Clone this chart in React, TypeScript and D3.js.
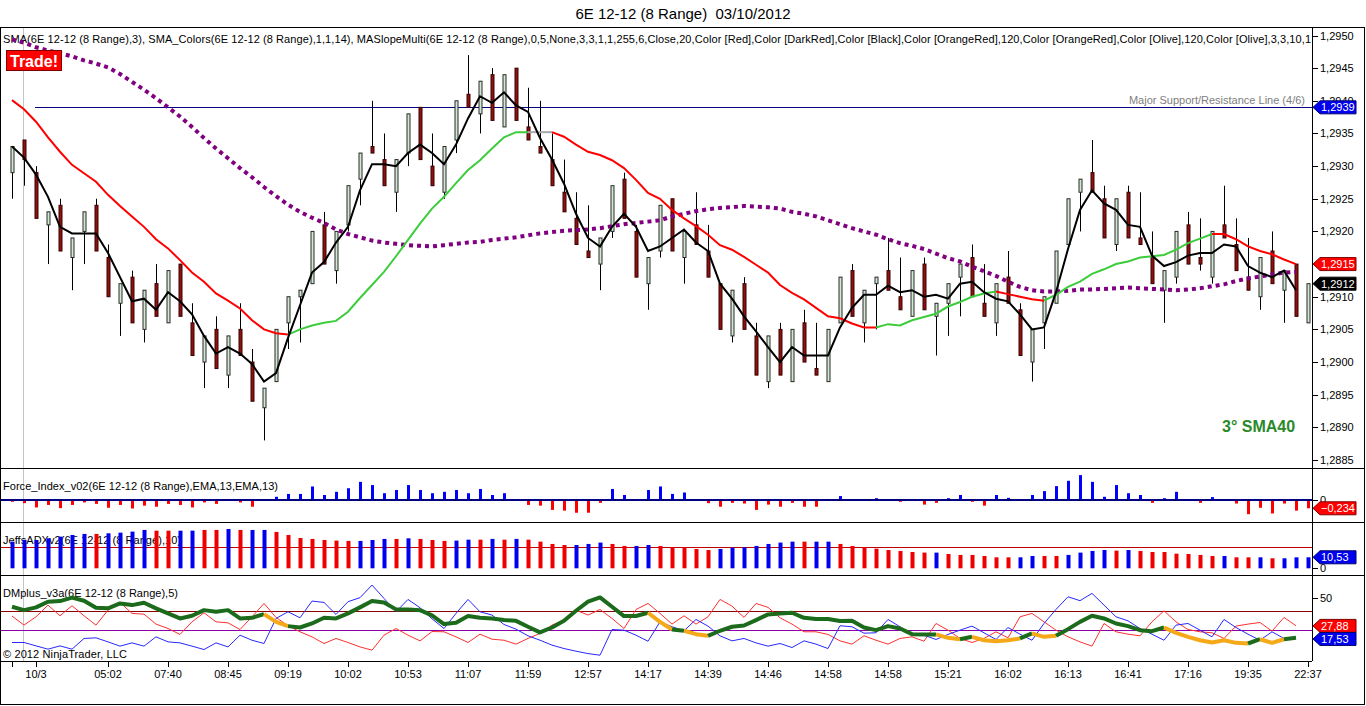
import { useEffect, useRef } from "react";
import * as d3 from "d3";

// ---- price bars (8 range) ----
const openPx = [
  1.2929, 1.2934, 1.2929, 1.2921, 1.2924, 1.2916, 1.292, 1.2924, 1.2916, 1.2909,
  1.2913, 1.2905, 1.2912, 1.2906, 1.2915, 1.2906, 1.29, 1.2905, 1.2898, 1.2905,
  1.29, 1.2893, 1.2897, 1.2906, 1.291, 1.2912, 1.2921, 1.2914, 1.2921, 1.2928,
  1.2933, 1.2931, 1.2926, 1.2932, 1.2939, 1.293, 1.2926, 1.2934, 1.2941, 1.2938,
  1.2944, 1.2936, 1.2945, 1.2936, 1.2933, 1.2931, 1.2926, 1.2922, 1.2917, 1.2915,
  1.292, 1.2928, 1.292, 1.2912, 1.2917, 1.2925, 1.2916, 1.2921, 1.2917, 1.2912,
  1.2904, 1.2912, 1.2904, 1.2897, 1.2905, 1.2897, 1.2906, 1.2899, 1.2897, 1.2906,
  1.2914, 1.2906, 1.2912, 1.2914, 1.291, 1.2907, 1.2915, 1.2907, 1.2909, 1.2913,
  1.2916, 1.2909, 1.2906, 1.2913, 1.2908, 1.29, 1.2906, 1.2909, 1.2918, 1.2926,
  1.2929, 1.2925, 1.2918, 1.2926, 1.2919, 1.2916, 1.2911, 1.2913, 1.2921, 1.2916,
  1.2913, 1.2921, 1.2918, 1.2913, 1.291, 1.2917, 1.2911, 1.2915, 1.2906,
];
const highPx = [
  1.2933, 1.2934, 1.293, 1.2923, 1.2925, 1.2919, 1.2923, 1.2925, 1.2918, 1.2912,
  1.2914, 1.2911, 1.2915, 1.2914, 1.2915, 1.2909, 1.2904, 1.2907, 1.2904, 1.2909,
  1.2902, 1.2896, 1.2905, 1.291, 1.2911, 1.292, 1.2923, 1.292, 1.2927, 1.2932,
  1.294, 1.2935, 1.2931, 1.2938, 1.2939, 1.2935, 1.2933, 1.294, 1.2947, 1.2943,
  1.2945, 1.2944, 1.2945, 1.2942, 1.294, 1.2935, 1.2931, 1.2926, 1.2924, 1.2919,
  1.2927, 1.2929, 1.2921, 1.2916, 1.2924, 1.2925, 1.292, 1.2926, 1.2921, 1.2912,
  1.2911, 1.2913, 1.2906, 1.2904, 1.2906, 1.2905, 1.2908, 1.2906, 1.2905, 1.2913,
  1.2915, 1.2911, 1.2913, 1.2919, 1.2916, 1.2914, 1.2916, 1.2909, 1.2912, 1.2915,
  1.2918, 1.2915, 1.2912, 1.2917, 1.2909, 1.2905, 1.291, 1.2917, 1.2925, 1.2928,
  1.2934, 1.2927, 1.2925, 1.2927, 1.2926, 1.292, 1.2914, 1.292, 1.2923, 1.2922,
  1.292, 1.2927, 1.2922, 1.2919, 1.2916, 1.292, 1.2914, 1.2915, 1.2912,
];
const lowPx = [
  1.2925, 1.2927, 1.2922, 1.2915, 1.2917, 1.2911, 1.2915, 1.2917, 1.291, 1.2904,
  1.2906, 1.2903, 1.2907, 1.2906, 1.2907, 1.2901, 1.2896, 1.2899, 1.2896, 1.2901,
  1.2894, 1.2888, 1.2897, 1.2902, 1.2903, 1.2912, 1.2915, 1.2912, 1.292, 1.2924,
  1.2932, 1.2927, 1.2923, 1.293, 1.2931, 1.2927, 1.2925, 1.2932, 1.2939, 1.2935,
  1.2937, 1.2936, 1.2937, 1.2934, 1.2932, 1.2927, 1.2923, 1.2918, 1.2916, 1.2911,
  1.2919, 1.2922, 1.2913, 1.2908, 1.2916, 1.2917, 1.2912, 1.2918, 1.2913, 1.2905,
  1.2903, 1.2905, 1.2898, 1.2896, 1.2898, 1.2897, 1.29, 1.2898, 1.2897, 1.2906,
  1.2907, 1.2903, 1.2905, 1.2911, 1.2908, 1.2907, 1.2908, 1.2901, 1.2904, 1.2907,
  1.291, 1.2907, 1.2904, 1.2909, 1.2901, 1.2897, 1.2902, 1.2909, 1.2918, 1.292,
  1.2926, 1.2919, 1.2917, 1.2919, 1.2918, 1.2912, 1.2906, 1.2912, 1.2915, 1.2914,
  1.2912, 1.2919, 1.2914, 1.2911, 1.2908, 1.2912, 1.2906, 1.2907, 1.2906,
];
const closePx = [
  1.2933, 1.2931, 1.2922, 1.2923, 1.2917, 1.2919, 1.2923, 1.2917, 1.291, 1.2912,
  1.2906, 1.2911, 1.2907, 1.2914, 1.2907, 1.2901, 1.2904, 1.2899, 1.2904, 1.2901,
  1.2894, 1.2896, 1.2905, 1.291, 1.2911, 1.292, 1.2915, 1.292, 1.2927, 1.2932,
  1.2932, 1.2927, 1.2931, 1.2938, 1.2931, 1.2927, 1.2933, 1.294, 1.2939, 1.2943,
  1.2937, 1.2944, 1.2937, 1.2934, 1.2932, 1.2927, 1.2923, 1.2918, 1.2916, 1.2919,
  1.2927, 1.2922, 1.2913, 1.2916, 1.2924, 1.2917, 1.292, 1.2918, 1.2913, 1.2905,
  1.2911, 1.2905, 1.2898, 1.2904, 1.2898, 1.2905, 1.29, 1.2898, 1.2905, 1.2913,
  1.2907, 1.2911, 1.2913, 1.2911, 1.2908, 1.2914, 1.2908, 1.2909, 1.2912, 1.2915,
  1.291, 1.2907, 1.2912, 1.2909, 1.2901, 1.2905, 1.291, 1.2917, 1.2925, 1.2928,
  1.2926, 1.2919, 1.2925, 1.2919, 1.2918, 1.2912, 1.2914, 1.292, 1.2915, 1.2915,
  1.292, 1.2919, 1.2914, 1.2911, 1.2916, 1.2912, 1.2914, 1.2907, 1.2912,
];

// ---- overlays (one value per finished bar) ----
const sma3 = [
  1.2933, 1.29313, 1.29287, 1.29253, 1.29207, 1.29197, 1.29197, 1.29197, 1.29167, 1.2913,
  1.29093, 1.29097, 1.2908, 1.29107, 1.29093, 1.29073, 1.2904, 1.29013, 1.29023, 1.29013,
  1.28997, 1.2897, 1.28983, 1.29037, 1.29087, 1.29137, 1.29153, 1.29183, 1.29207, 1.29263,
  1.29303, 1.29303, 1.293, 1.2932, 1.29333, 1.2932, 1.29303, 1.29333, 1.29373, 1.29407,
  1.29397, 1.29413, 1.29393, 1.29383, 1.29343, 1.2931, 1.29273, 1.29227, 1.2919, 1.29177,
  1.29207, 1.29227, 1.29207, 1.2917, 1.29177, 1.2919, 1.29203, 1.29183, 1.2917, 1.2912,
  1.29097, 1.2907, 1.29047, 1.29023, 1.29, 1.29023, 1.2901, 1.2901, 1.2901, 1.29053,
  1.29083, 1.29103, 1.29103, 1.29117, 1.29107, 1.2911, 1.291, 1.29103, 1.29097, 1.2912,
  1.29123, 1.29107, 1.29097, 1.29093, 1.29073, 1.2905, 1.29053, 1.29107, 1.29173, 1.29233,
  1.29263, 1.29243, 1.29233, 1.2921, 1.29207, 1.29163, 1.29147, 1.29153, 1.29163, 1.29167,
  1.29167, 1.2918, 1.29177, 1.29147, 1.29137, 1.2913, 1.2914, 1.2911,
];
const smaColors = [
  1.29401, 1.29387, 1.29368, 1.29344, 1.29322, 1.29302, 1.29289, 1.29276, 1.29256, 1.29239,
  1.29223, 1.29207, 1.29188, 1.29174, 1.29156, 1.29137, 1.29123, 1.29105, 1.29094, 1.29082,
  1.29064, 1.2905, 1.29044, 1.29042, 1.2905, 1.29056, 1.2906, 1.29063, 1.29077, 1.29098,
  1.29118, 1.29138, 1.29162, 1.29187, 1.29212, 1.29235, 1.29253, 1.29274, 1.29294, 1.29309,
  1.29327, 1.29344, 1.29352, 1.29352, 1.29352, 1.29352, 1.29345, 1.29333, 1.29322, 1.29317,
  1.29309, 1.29297, 1.29279, 1.29259, 1.2925, 1.29233, 1.2922, 1.29208, 1.29195, 1.29179,
  1.29172, 1.29161, 1.29149, 1.29137, 1.29118, 1.29106, 1.29096, 1.29083, 1.2907, 1.29067,
  1.29059, 1.29053, 1.29053, 1.29058, 1.29056, 1.29064, 1.29069, 1.29074, 1.29085, 1.29092,
  1.291, 1.29105, 1.29108, 1.29104, 1.291, 1.29096, 1.29094, 1.29103, 1.29115, 1.29123,
  1.29135, 1.29142, 1.2915, 1.29154, 1.2916, 1.29162, 1.29164, 1.29172, 1.29182, 1.29189,
  1.29196, 1.29196, 1.29188, 1.29177, 1.2917, 1.29165, 1.29157, 1.2915,
];
// slope state of SMA_Colors, as runs of segments [fromBar, toBar, state]
const smaRuns: [number, number, string][] = [
  [1, 23, "down"], [24, 43, "up"], [44, 45, "flat"], [46, 72, "down"],
  [73, 82, "up"], [83, 86, "down"], [87, 100, "up"], [101, 107, "down"],
];
const maSlope = [
  1.29494, 1.29489, 1.29482, 1.29477, 1.29473, 1.29468, 1.29462, 1.29457, 1.29451, 1.29441,
  1.29429, 1.29417, 1.29404, 1.2939, 1.29376, 1.2936, 1.29343, 1.29327, 1.29312, 1.29297,
  1.29283, 1.29268, 1.29254, 1.29241, 1.2923, 1.29221, 1.29213, 1.29203, 1.29196, 1.29191,
  1.29186, 1.29183, 1.29181, 1.29179, 1.29178, 1.29177, 1.29179, 1.29181, 1.29183, 1.29184,
  1.29187, 1.29189, 1.29191, 1.29194, 1.29197, 1.29199, 1.29201, 1.29202, 1.29203, 1.29205,
  1.29208, 1.29211, 1.29213, 1.29215, 1.29217, 1.29223, 1.29227, 1.29231, 1.29234, 1.29236,
  1.29237, 1.29239, 1.29238, 1.29237, 1.29235, 1.2923, 1.29227, 1.29223, 1.29217, 1.29211,
  1.29205, 1.292, 1.29195, 1.29188, 1.29182, 1.29178, 1.29173, 1.29166, 1.29159, 1.29154,
  1.29146, 1.29139, 1.29132, 1.29123, 1.29115, 1.2911, 1.29108, 1.29108, 1.29109, 1.29111,
  1.29111, 1.29112, 1.29113, 1.29114, 1.29113, 1.29112, 1.29111, 1.2911, 1.29111, 1.29113,
  1.29116, 1.29119, 1.29124, 1.29128, 1.29131, 1.29134, 1.29137, 1.29138,
];
const supportLevel = 1.2939;

// ---- Force_Index_v02 ----
const forceIdx = [
  -0.05, -0.09, -0.21, -0.14, -0.23, -0.14, -0.07, -0.11, -0.22, -0.14,
  -0.24, -0.16, -0.19, -0.11, -0.14, -0.21, -0.07, -0.11, -0.01, -0.07,
  -0.19, 0.01, 0.09, 0.17, 0.17, 0.38, 0.14, 0.23, 0.33, 0.51,
  0.42, 0.19, 0.28, 0.42, 0.28, 0.19, 0.23, 0.28, 0.19, 0.31,
  0.14, 0.19, 0.01, -0.14, -0.16, -0.28, -0.3, -0.36, -0.36, -0.08,
  0.31, 0.14, 0.01, 0.28, 0.38, 0.17, 0.21, 0.0, -0.09, -0.19,
  -0.08, -0.1, -0.28, -0.13, -0.19, -0.08, -0.19, -0.19, -0.02, 0.11,
  0.0, 0.0, 0.05, 0.0, -0.05, 0.0, -0.13, -0.08, 0.05, 0.14,
  -0.05, -0.16, 0.14, 0.06, 0.01, 0.14, 0.25, 0.39, 0.54, 0.7,
  0.51, 0.09, 0.42, 0.19, 0.14, -0.08, 0.05, 0.23, 0.0, -0.08,
  0.08, 0.0, -0.1, -0.4, -0.22, -0.38, -0.1, -0.3, -0.234,
];

// ---- JeffsADXv2 ----
const adxVals = [
  25.5, 27.1, 27.1, 28.7, 30.3, 31.9, 32.9, 32.9, 33.5, 34.1,
  35.1, 36.7, 36.0, 36.0, 36.0, 36.0, 36.7, 36.7, 37.6, 36.7,
  36.7, 36.7, 34.8, 31.9, 29.0, 28.1, 27.1, 26.5, 26.2, 26.2,
  27.1, 28.1, 28.1, 28.7, 28.1, 27.1, 26.2, 26.5, 27.4, 27.4,
  28.1, 27.4, 28.1, 27.4, 25.5, 23.3, 22.3, 22.3, 23.3, 24.6,
  23.3, 21.4, 21.4, 22.3, 21.4, 20.1, 20.1, 18.5, 17.5, 18.5,
  19.8, 20.1, 21.4, 23.3, 24.6, 25.5, 25.5, 25.5, 25.5, 23.3,
  21.4, 20.1, 18.8, 17.5, 16.6, 15.6, 15.0, 15.0, 13.7, 12.8,
  12.8, 11.8, 10.5, 10.5, 10.5, 11.8, 11.8, 11.8, 12.8, 15.0,
  16.6, 17.5, 16.9, 17.5, 16.6, 15.6, 15.6, 14.0, 13.7, 12.8,
  11.8, 11.8, 10.5, 10.5, 10.5, 9.6, 9.6, 10.5, 10.53,
];
// B = DI+ leading (blue bar), R = DI- leading (red bar)
const adxSide = (
  "BBBBBBBRBB" + "BBRRBBRRBR" + "BBRRRRRRRB" + "BBRBRRRBBR" + "BRBRRRRBBB" +
  "RRBBRRRRRB" + "BBBBBBRBBR" + "RRRRRRRBRR" + "RRRRBBRRBB" + "BBRBRRRRRR" + "RBRRBRBBB"
).split("");
const adxLevel = 20;

// ---- DMplus_v3a ----
const dmAdx = [
  43.1, 40.4, 42.6, 47.1, 47.6, 50.3, 47.9, 42.3, 41.8, 45.7,
  44.4, 46.3, 41.8, 37.8, 33.8, 35.9, 40.4, 39.1, 40.4, 33.8,
  34.3, 37.2, 31.1, 27.7, 26.6, 29.8, 34.3, 33.8, 37.8, 42.6,
  47.6, 46.5, 41.0, 41.0, 40.4, 36.2, 29.3, 30.3, 35.7, 34.3,
  33.8, 32.5, 31.9, 27.2, 22.7, 26.6, 31.9, 39.9, 47.1, 50.5,
  43.1, 35.7, 35.7, 38.3, 31.1, 25.0, 24.0, 21.3, 20.0, 24.0,
  27.2, 28.2, 32.5, 37.0, 37.8, 38.3, 34.3, 33.3, 33.3, 31.7,
  31.9, 26.6, 24.5, 27.7, 25.8, 21.3, 21.1, 21.1, 18.4, 17.3,
  19.2, 16.5, 15.7, 16.5, 17.9, 21.9, 19.2, 20.0, 25.3, 31.1,
  35.9, 33.8, 29.8, 27.7, 24.5, 23.7, 26.6, 22.4, 19.2, 16.5,
  14.7, 16.5, 14.4, 13.9, 17.3, 14.4, 17.3, 18.4,
];
const dmAdxWeakRuns: [number, number][] = [
  [22, 23], [54, 55], [57, 58], [78, 79], [81, 84], [86, 87], [97, 103], [105, 106],
];
const diMinus = [
  35.7, 28.5, 35.1, 44.4, 35.9, 43.9, 35.9, 28.5, 40.4, 46.5,
  37.8, 37.2, 29.3, 25.8, 21.1, 31.1, 38.3, 31.1, 30.3, 25.0,
  35.1, 45.7, 34.6, 28.0, 23.2, 19.2, 13.9, 17.9, 14.7, 11.2,
  8.6, 20.5, 25.8, 20.5, 16.0, 23.4, 23.2, 19.2, 14.7, 21.3,
  17.3, 16.5, 13.4, 17.9, 21.9, 28.5, 32.5, 40.4, 36.5, 40.9,
  33.8, 25.8, 40.9, 45.7, 37.8, 29.3, 35.9, 29.3, 35.1, 48.9,
  43.6, 34.6, 45.7, 42.6, 34.3, 29.3, 23.2, 23.2, 21.1, 16.0,
  13.4, 20.0, 16.5, 13.4, 17.9, 19.2, 15.7, 29.8, 24.5, 17.9,
  14.7, 17.9, 23.2, 18.4, 35.1, 37.8, 31.1, 24.5, 19.2, 15.2,
  11.8, 29.8, 23.2, 21.3, 20.0, 31.1, 39.9, 31.1, 25.0, 23.2,
  22.4, 17.9, 27.7, 29.3, 30.6, 23.7, 34.6, 28.0,
];
const diPlus = [
  14.7, 14.7, 12.0, 9.4, 12.0, 9.4, 17.9, 18.4, 15.2, 11.8,
  14.4, 11.8, 19.2, 15.2, 14.4, 11.8, 9.1, 14.4, 11.2, 20.5,
  16.5, 13.9, 33.8, 39.1, 34.3, 47.6, 46.5, 37.0, 47.1, 50.3,
  60.3, 49.7, 39.1, 48.9, 42.3, 33.5, 25.8, 37.8, 48.9, 39.1,
  36.5, 29.0, 25.3, 20.0, 16.5, 12.6, 9.9, 7.8, 5.9, 4.6,
  25.0, 24.5, 20.5, 15.7, 31.1, 27.2, 24.0, 33.0, 27.7, 20.0,
  16.0, 17.9, 14.4, 11.8, 13.9, 10.7, 16.0, 13.4, 9.9, 28.0,
  27.2, 22.1, 22.4, 33.0, 27.2, 21.3, 20.5, 17.1, 21.1, 24.5,
  27.7, 22.4, 17.1, 26.6, 21.3, 16.5, 29.8, 41.0, 51.0, 47.9,
  53.7, 44.4, 35.1, 31.9, 25.8, 21.3, 16.5, 28.5, 29.8, 24.5,
  19.2, 33.0, 26.6, 21.3, 16.5, 23.2, 17.9, 17.9,
];
const dmLevels = [40, 25];

// ---- axes ----
const priceTicks = [
  1.2885, 1.289, 1.2895, 1.29, 1.2905, 1.291, 1.2915, 1.292, 1.2925, 1.293, 1.2935, 1.294,
  1.2945, 1.295,
];
const xTickBars = [0, 2, 8, 13, 18, 23, 28, 33, 38, 43, 48, 53, 58, 63, 68, 73, 78, 83, 88, 93, 98, 103, 108];
const xTickLabels = [
  "", "10/3", "05:02", "07:40", "08:45", "09:19", "10:02", "10:53", "11:07", "11:59", "12:57",
  "14:17", "14:39", "14:46", "14:58", "14:58", "15:21", "16:02", "16:13", "16:41", "17:16",
  "19:35", "22:37",
];
const cursorBar = 1;

const title = "6E 12-12 (8 Range)  03/10/2012";
const mainLegend =
  "SMA(6E 12-12 (8 Range),3), SMA_Colors(6E 12-12 (8 Range),1,1,14), MASlopeMulti(6E 12-12 (8 Range),0,5,None,3,3,1,1,255,6,Close,20,Color [Red],Color [DarkRed],Color [Black],Color [OrangeRed],120,Color [OrangeRed],Color [Olive],120,Color [Olive],3,3,10,1";

export default function App() {
  const svgRef = useRef<SVGSVGElement | null>(null);
  const width = 1366;
  const height = 706;

  useEffect(() => {
    const svg = d3.select(svgRef.current);
    svg.selectAll("*").remove();
    const F = "'Liberation Sans', Arial, sans-serif";
    const plotR = 1312;
    const comma = (v: number, d: number) => d3.format(`.${d}f`)(v).replace(".", ",");

    const x = d3.scaleLinear().domain([0, 108]).range([12, 1308]);
    const yP = d3.scaleLinear().domain([1.2885, 1.295]).range([460, 35.5]);
    const yF = d3.scaleLinear().domain([-0.62, 0.9]).range([522, 468]);
    const yA = d3.scaleLinear().domain([0, 44.3]).range([568.3, 522]);
    const yD = d3.scaleLinear().domain([0, 68.3]).range([661, 575]);

    svg.append("rect").attr("width", width).attr("height", height).attr("fill", "#fff");

    const defs = svg.append("defs");
    const clip = (id: string, y0: number, y1: number) =>
      defs.append("clipPath").attr("id", id).append("rect")
        .attr("x", 0).attr("y", y0).attr("width", plotR).attr("height", y1 - y0);
    clip("cMain", 27, 468);
    clip("cForce", 468, 522);
    clip("cAdx", 522, 575);
    clip("cDm", 575, 661);

    svg.append("text")
      .attr("x", 683).attr("y", 19).attr("text-anchor", "middle")
      .attr("font-family", F).attr("font-size", 15)
      .style("white-space", "pre")
      .text(title);

    // cursor line across all panels
    svg.append("line")
      .attr("x1", x(cursorBar) - 0.5).attr("x2", x(cursorBar) - 0.5)
      .attr("y1", 27).attr("y2", 661)
      .attr("stroke", "#c4c4c4");

    // ---------- main panel ----------
    const gm = svg.append("g").attr("clip-path", "url(#cMain)");
    gm.append("text")
      .attr("x", 3).attr("y", 43).attr("font-family", F).attr("font-size", 11)
      .attr("textLength", 1308).attr("lengthAdjust", "spacing")
      .text(mainLegend);

    const ySup = Math.round(yP(supportLevel)) + 0.5;
    gm.append("line")
      .attr("x1", 35).attr("x2", plotR).attr("y1", ySup).attr("y2", ySup)
      .attr("stroke", "#000080");
    gm.append("text")
      .attr("x", 1305).attr("y", ySup - 4).attr("text-anchor", "end")
      .attr("font-family", F).attr("font-size", 11).attr("fill", "#808080")
      .text("Major Support/Resistance Line (4/6)");

    const idx = d3.range(openPx.length);
    gm.selectAll(".wick").data(idx).join("line")
      .attr("x1", (i) => x(i) + 0.5).attr("x2", (i) => x(i) + 0.5)
      .attr("y1", (i) => yP(highPx[i])).attr("y2", (i) => yP(lowPx[i]))
      .attr("stroke", "#000");
    gm.selectAll(".body").data(idx).join("rect")
      .attr("x", (i) => x(i) - 1)
      .attr("width", 3)
      .attr("y", (i) => yP(Math.max(openPx[i], closePx[i])))
      .attr("height", (i) => Math.max(1, Math.abs(yP(openPx[i]) - yP(closePx[i]))))
      .attr("fill", (i) => (closePx[i] >= openPx[i] ? "#cfe8cf" : "#8e1010"))
      .attr("stroke", (i) => (closePx[i] >= openPx[i] ? "#2a2a2a" : "#3a0000"))
      .attr("stroke-width", 1);

    const lineP = d3.line<number>().x((_, i) => x(i)).y((v) => yP(v));
    gm.append("path")
      .attr("d", lineP(maSlope))
      .attr("fill", "none").attr("stroke", "#800080")
      .attr("stroke-width", 4).attr("stroke-dasharray", "4,4");

    const smaCol: Record<string, string> = { down: "#ff0000", up: "#3ccc3c", flat: "#a8a8a8" };
    smaRuns.forEach(([a, b, s]) => {
      const pts = d3.range(a - 1, b + 1).map((i) => [x(i), yP(smaColors[i])] as [number, number]);
      gm.append("path").attr("d", d3.line()(pts))
        .attr("fill", "none").attr("stroke", smaCol[s]).attr("stroke-width", 2);
    });

    gm.append("path")
      .attr("d", lineP(sma3))
      .attr("fill", "none").attr("stroke", "#000").attr("stroke-width", 2);

    gm.append("text")
      .attr("x", 1222).attr("y", 432).attr("font-family", F).attr("font-size", 16)
      .attr("font-weight", "bold").attr("fill", "#2a8a2a")
      .text("3°  SMA40");

    svg.append("rect")
      .attr("x", 6.5).attr("y", 50.5).attr("width", 55).attr("height", 20)
      .attr("fill", "#ff0000").attr("stroke", "#7a0000");
    svg.append("text")
      .attr("x", 34).attr("y", 67).attr("text-anchor", "middle")
      .attr("font-family", F).attr("font-size", 16).attr("font-weight", "bold")
      .attr("fill", "#fff").text("Trade!");

    // ---------- force index ----------
    const gf = svg.append("g").attr("clip-path", "url(#cForce)");
    gf.append("text")
      .attr("x", 3).attr("y", 490).attr("font-family", F).attr("font-size", 11)
      .attr("textLength", 275).attr("lengthAdjust", "spacing")
      .text("Force_Index_v02(6E 12-12 (8 Range),EMA,13,EMA,13)");
    gf.selectAll(".fb").data(forceIdx).join("rect")
      .attr("x", (_, i) => x(i) - 1).attr("width", 3)
      .attr("y", (v) => Math.min(yF(0), yF(v)))
      .attr("height", (v) => Math.abs(yF(v) - yF(0)))
      .attr("fill", (v) => (v >= 0 ? "#0000ff" : "#ff0000"));
    gf.append("line")
      .attr("x1", 0).attr("x2", plotR).attr("y1", yF(0)).attr("y2", yF(0))
      .attr("stroke", "#000080").attr("stroke-width", 2);

    // ---------- ADX ----------
    const ga = svg.append("g").attr("clip-path", "url(#cAdx)");
    ga.append("text")
      .attr("x", 3).attr("y", 544).attr("font-family", F).attr("font-size", 11)
      .attr("textLength", 178).attr("lengthAdjust", "spacing")
      .text("JeffsADXv2(6E 12-12 (8 Range),10)");
    const yLvl = Math.round(yA(adxLevel)) + 0.5;
    ga.append("line")
      .attr("x1", 0).attr("x2", plotR).attr("y1", yLvl).attr("y2", yLvl)
      .attr("stroke", "#c00000");
    ga.selectAll(".ab").data(adxVals).join("rect")
      .attr("x", (_, i) => x(i) - 1.5).attr("width", 4)
      .attr("y", (v) => yA(v))
      .attr("height", (v) => yA(0) - yA(v))
      .attr("fill", (_, i) => (adxSide[i] === "B" ? "#0000ee" : "#ee0000"));

    // ---------- DMplus ----------
    const gd = svg.append("g").attr("clip-path", "url(#cDm)");
    gd.append("text")
      .attr("x", 3).attr("y", 597).attr("font-family", F).attr("font-size", 11)
      .attr("textLength", 175).attr("lengthAdjust", "spacing")
      .text("DMplus_v3a(6E 12-12 (8 Range),5)");
    const lvlCol = ["#8b0000", "#8a00a8"];
    dmLevels.forEach((lv, k) => {
      const yy = Math.round(yD(lv)) + 0.5;
      gd.append("line").attr("x1", 0).attr("x2", plotR).attr("y1", yy).attr("y2", yy)
        .attr("stroke", lvlCol[k]);
    });
    const lineD = d3.line<number>().x((_, i) => x(i)).y((v) => yD(v));
    gd.append("path").attr("d", lineD(diMinus))
      .attr("fill", "none").attr("stroke", "#ff3030").attr("stroke-width", 1);
    gd.append("path").attr("d", lineD(diPlus))
      .attr("fill", "none").attr("stroke", "#2828ff").attr("stroke-width", 1);

    const weak = (i: number) => dmAdxWeakRuns.some(([a, b]) => i >= a && i <= b);
    let start = 1;
    for (let i = 1; i < dmAdx.length; i++) {
      if (i === dmAdx.length - 1 || weak(i + 1) !== weak(i)) {
        const pts = d3.range(start - 1, i + 1).map((k) => [x(k), yD(dmAdx[k])] as [number, number]);
        gd.append("path").attr("d", d3.line()(pts))
          .attr("fill", "none").attr("stroke", weak(i) ? "#f5a818" : "#1c6b1c")
          .attr("stroke-width", 4).attr("stroke-linejoin", "round");
        start = i + 1;
      }
    }
    gd.append("text")
      .attr("x", 3).attr("y", 658).attr("font-family", F).attr("font-size", 11)
      .attr("textLength", 124).attr("lengthAdjust", "spacing")
      .text("© 2012 NinjaTrader, LLC");

    // ---------- right axis ----------
    svg.append("line").attr("x1", plotR + 0.5).attr("x2", plotR + 0.5)
      .attr("y1", 27).attr("y2", 661).attr("stroke", "#000");
    const axisLabel = (yy: number, txt: string) => {
      svg.append("line").attr("x1", plotR).attr("x2", plotR + 6)
        .attr("y1", Math.round(yy) + 0.5).attr("y2", Math.round(yy) + 0.5).attr("stroke", "#000");
      svg.append("text").attr("x", plotR + 8).attr("y", yy + 4)
        .attr("font-family", F).attr("font-size", 11).attr("fill", "#000").text(txt);
    };
    priceTicks.forEach((t) => axisLabel(yP(t), comma(t, 4)));
    axisLabel(yF(0), "0");
    axisLabel(yA(0), "0");
    axisLabel(yD(50), "50");

    const tag = (yy: number, txt: string, fill: string, stroke: string) => {
      const pts = [
        [plotR + 1, yy], [plotR + 8, yy - 6.5], [1356, yy - 6.5], [1356, yy + 6.5], [plotR + 8, yy + 6.5],
      ];
      svg.append("polygon").attr("points", pts.map((p) => p.join(",")).join(" "))
        .attr("fill", fill).attr("stroke", stroke);
      svg.append("text").attr("x", plotR + 9).attr("y", yy + 4)
        .attr("font-family", F).attr("font-size", 11).attr("fill", "#fff").text(txt);
    };
    const lastP = closePx[closePx.length - 1];
    const lastSma = smaColors[smaColors.length - 1];
    tag(yP(supportLevel), comma(supportLevel, 4), "#0000f0", "#000070");
    tag(yP(lastSma), comma(lastSma, 4), "#ff0000", "#800000");
    tag(yP(lastP), comma(lastP, 4), "#000", "#000");
    const lastF = forceIdx[forceIdx.length - 1];
    tag(yF(lastF), comma(lastF, 3), "#ff0000", "#800000");
    const lastA = adxVals[adxVals.length - 1];
    tag(yA(lastA), comma(lastA, 2), "#0000f0", "#000070");
    tag(yD(27.88), comma(27.88, 2), "#ff0000", "#800000");
    tag(yD(17.53), comma(17.53, 2), "#0000f0", "#000070");

    // ---------- time axis ----------
    svg.append("line").attr("x1", 0).attr("x2", plotR).attr("y1", 661.5).attr("y2", 661.5)
      .attr("stroke", "#000");
    xTickBars.forEach((b, k) => {
      svg.append("line").attr("x1", x(b) + 0.5).attr("x2", x(b) + 0.5)
        .attr("y1", 661).attr("y2", 667).attr("stroke", "#000");
      if (xTickLabels[k]) {
        svg.append("text").attr("x", x(b)).attr("y", 678).attr("text-anchor", "middle")
          .attr("font-family", F).attr("font-size", 11).text(xTickLabels[k]);
      }
    });

    // ---------- frame ----------
    svg.append("rect").attr("x", 0.5).attr("y", 27.5).attr("width", 1364).attr("height", 677)
      .attr("fill", "none").attr("stroke", "#000");
    [468.5, 522.5, 575.5].forEach((yy) =>
      svg.append("line").attr("x1", 0).attr("x2", 1365).attr("y1", yy).attr("y2", yy).attr("stroke", "#000"),
    );
  }, []);

  return (
    <svg
      ref={svgRef}
      width={width}
      height={height}
      style={{ position: "absolute", left: 0, top: 0, backgroundColor: "#ffffff" }}
    />
  );
}
